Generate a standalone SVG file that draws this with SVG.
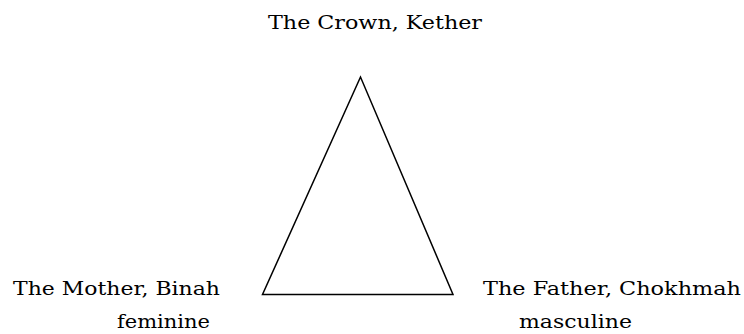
<svg xmlns="http://www.w3.org/2000/svg" width="744" height="334" viewBox="0 0 744 334">
<style>
  text { font-family: "DejaVu Serif", "Liberation Serif", serif; font-size: 19px; fill: #000; }
  .edge { fill: none; stroke: #000; stroke-width: 1.5; stroke-linejoin: miter; }
</style>
<rect width="744" height="334" fill="#fff"/>
<g id="connectors">
  <polygon class="edge" points="360.5,77 262.5,294.5 453,294.5"/>
</g>
<g id="crown">
  <text x="268" y="29" textLength="214" lengthAdjust="spacingAndGlyphs">The Crown, Kether</text>
</g>
<g id="mother">
  <text x="13" y="295" textLength="207" lengthAdjust="spacingAndGlyphs">The Mother, Binah</text>
  <text x="117" y="328" textLength="93" lengthAdjust="spacingAndGlyphs">feminine</text>
</g>
<g id="father">
  <text x="483" y="295" textLength="258" lengthAdjust="spacingAndGlyphs">The Father, Chokhmah</text>
  <text x="519" y="328" textLength="113" lengthAdjust="spacingAndGlyphs">masculine</text>
</g>
</svg>
